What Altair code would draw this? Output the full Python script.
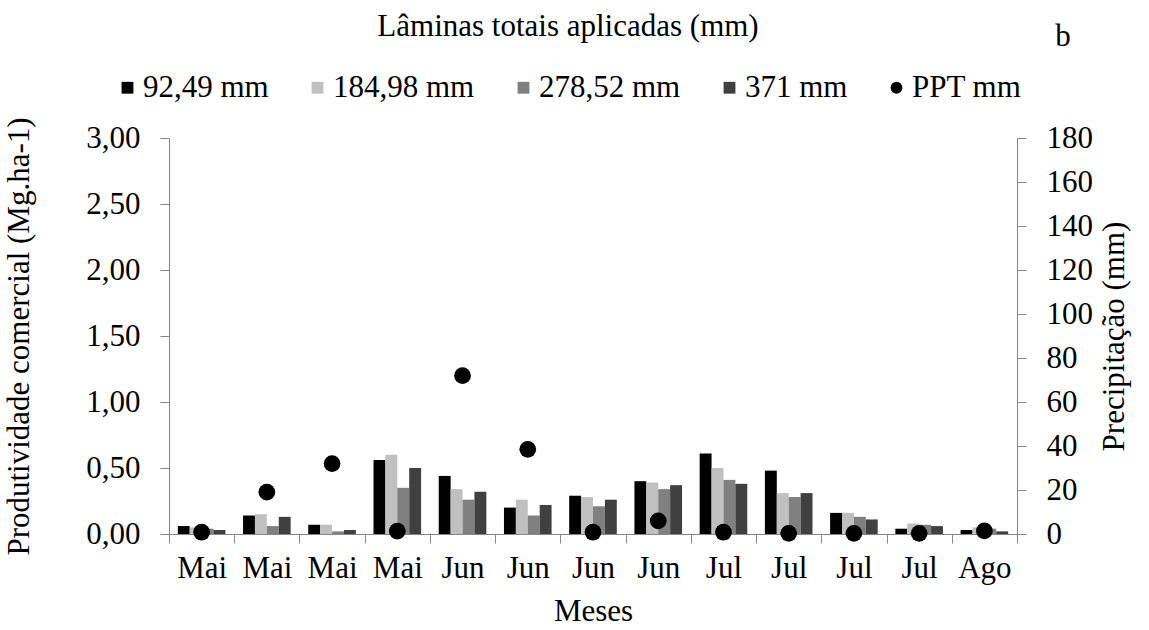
import altair as alt
import pandas as pd

# Categories (13 sampling dates) and irrigation depth series
meses = ["Mai", "Mai", "Mai", "Mai", "Jun", "Jun", "Jun", "Jun",
         "Jul", "Jul", "Jul", "Jul", "Ago"]
laminas = ["92,49 mm", "184,98 mm", "278,52 mm", "371 mm"]

# Produtividade comercial (Mg.ha-1) per irrigation depth
prod_9249 = [0.06, 0.14, 0.07, 0.56, 0.44, 0.20, 0.29, 0.40, 0.61, 0.48, 0.16, 0.04, 0.03]
prod_18498 = [0.05, 0.15, 0.07, 0.60, 0.34, 0.26, 0.28, 0.39, 0.50, 0.31, 0.16, 0.08, 0.05]
prod_27852 = [0.04, 0.06, 0.02, 0.35, 0.26, 0.14, 0.21, 0.34, 0.41, 0.28, 0.13, 0.07, 0.04]
prod_371 = [0.03, 0.13, 0.03, 0.50, 0.32, 0.22, 0.26, 0.37, 0.38, 0.31, 0.11, 0.06, 0.02]

# Precipitação (mm)
ppt = [0.8, 19.0, 32.0, 1.3, 72.0, 38.5, 0.8, 6.0, 0.8, 0.3, 0.3, 0.3, 1.4]

cores = ["#000000", "#c0c0c0", "#808080", "#404040"]
FONT = "Liberation Serif"
FS = 31
AXIS_GRAY = "#868686"

series = [prod_9249, prod_18498, prod_27852, prod_371]
rows = []
for i in range(len(meses)):
    for nome, valores in zip(laminas, series):
        rows.append({"idx": i, "lamina": nome, "prod": valores[i]})
bars_df = pd.DataFrame(rows)
ppt_df = pd.DataFrame({"idx": list(range(len(meses))), "lamina": "PPT mm", "ppt": ppt})

dominio = laminas + ["PPT mm"]
color_scale = alt.Scale(domain=dominio, range=cores + ["#000000"])
shape_scale = alt.Scale(domain=dominio, range=["square"] * 4 + ["circle"])

legenda = alt.Legend(
    title=None, orient="none", legendX=-62, legendY=-66,
    direction="horizontal", columns=5, columnPadding=28,
    labelFont=FONT, labelFontSize=FS, labelColor="#000000", labelOffset=0,
    symbolSize=140, symbolStrokeWidth=0, symbolOffset=5, labelLimit=400,
)

rotulos_meses = "[" + ",".join(f"'{m}'" for m in meses) + "][datum.value]"

eixo_x = alt.X(
    "idx:O",
    scale=alt.Scale(paddingInner=0, paddingOuter=0),
    axis=alt.Axis(
        title="Meses", labelExpr=rotulos_meses, labelAngle=0,
        tickBand="extent", tickSize=9, tickColor=AXIS_GRAY,
        domainColor=AXIS_GRAY, labelFont=FONT, labelFontSize=FS,
        labelColor="#000000", labelPadding=10, titleFont=FONT,
        titleFontSize=FS, titleFontWeight="normal", titleColor="#000000",
        titlePadding=13,
    ),
)

barras = alt.Chart(bars_df).mark_bar().encode(
    x=eixo_x,
    xOffset=alt.XOffset("lamina:N", sort=laminas,
                        scale=alt.Scale(paddingInner=0, paddingOuter=0.74)),
    y=alt.Y(
        "prod:Q",
        scale=alt.Scale(domain=[0, 3]),
        axis=alt.Axis(
            title="Produtividade comercial (Mg.ha-1)",
            values=[0, 0.5, 1, 1.5, 2, 2.5, 3],
            labelExpr="replace(format(datum.value, '.2f'), '.', ',')",
            grid=False, tickSize=9, tickColor=AXIS_GRAY, domainColor=AXIS_GRAY,
            labelFont=FONT, labelFontSize=FS, labelColor="#000000",
            labelPadding=20, titleFont=FONT, titleFontSize=FS,
            titleFontWeight="normal", titleColor="#000000", titlePadding=50,
        ),
    ),
    color=alt.Color("lamina:N", scale=color_scale, legend=legenda),
)

pontos = alt.Chart(ppt_df).mark_point(filled=True, size=280, opacity=1).encode(
    x=eixo_x,
    y=alt.Y(
        "ppt:Q",
        scale=alt.Scale(domain=[0, 180]),
        axis=alt.Axis(
            orient="right", title="Precipitação (mm)",
            values=list(range(0, 181, 20)), grid=False, tickSize=9,
            tickColor=AXIS_GRAY, domainColor=AXIS_GRAY,
            labelFont=FONT, labelFontSize=FS, labelColor="#000000",
            labelPadding=20, titleFont=FONT, titleFontSize=FS,
            titleFontWeight="normal", titleColor="#000000",
            titleAngle=-90, titlePadding=38,
        ),
    ),
    color=alt.Color("lamina:N", scale=color_scale, legend=legenda),
    shape=alt.Shape("lamina:N", scale=shape_scale, legend=legenda),
)

# Header texts: chart title and panel letter
cabecalho = pd.DataFrame({
    "t": ["Lâminas totais aplicadas (mm)", "b"],
    "px": [399, 894],
    "py": [-111, -101],
})
textos = alt.Chart(cabecalho).mark_text(
    font=FONT, fontSize=FS, align="center", baseline="middle", color="#000000"
).encode(
    x=alt.X("px:Q", scale=None),
    y=alt.Y("py:Q", scale=None),
    text="t:N",
)

chart = alt.layer(barras, pontos, textos).resolve_scale(
    y="independent"
).properties(
    width=848, height=396,
    padding={"left": 169, "top": 138, "right": 132, "bottom": 96},
    autosize=alt.AutoSizeParams(type="none"),
).configure_view(strokeWidth=0)

chart.save("out.html", embed_options={"renderer": "svg", "actions": False})
